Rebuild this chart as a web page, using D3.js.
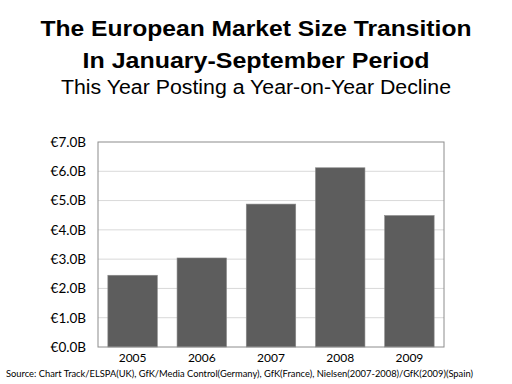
<!DOCTYPE html>
<html><head><meta charset="utf-8">
<script src="https://cdn.jsdelivr.net/npm/d3@7"></script>
<style>body{margin:0;background:#fff}svg{display:block}</style>
</head><body>
<script>
const years = ["2005","2006","2007","2008","2009"];
const values = [2.45, 3.04, 4.88, 6.12, 4.49];
const yTicks = [0,1,2,3,4,5,6,7];
const titleLines = ["The European Market Size Transition","In January-September Period"];
const subtitle = "This Year Posting a Year-on-Year Decline";
const source = "Source:  Chart Track/ELSPA(UK), GfK/Media Control(Germany), GfK(France), Nielsen(2007-2008)/GfK(2009)(Spain)";

const W=512,H=384;
const m={l:98,r:68,t:142,b:37};
const svg=d3.select("body").append("svg").attr("width",W).attr("height",H);
const x=d3.scaleBand().domain(years).range([m.l,W-m.r]).paddingInner(0.285).paddingOuter(0.1425);
const y=d3.scaleLinear().domain([0,7]).range([H-m.b,m.t]);

svg.append("text").attr("x",256).attr("y",36).attr("text-anchor","middle")
  .attr("font-family","Liberation Sans, Arial, sans-serif").attr("font-weight","bold").attr("font-size",21.5)
  .attr("textLength",431).attr("lengthAdjust","spacingAndGlyphs")
  .text(titleLines[0]);
svg.append("text").attr("x",256).attr("y",68).attr("text-anchor","middle")
  .attr("font-family","Liberation Sans, Arial, sans-serif").attr("font-weight","bold").attr("font-size",21.5)
  .attr("textLength",347).attr("lengthAdjust","spacingAndGlyphs")
  .text(titleLines[1]);
svg.append("text").attr("x",256).attr("y",94).attr("text-anchor","middle")
  .attr("font-family","Liberation Sans, Arial, sans-serif").attr("font-size",19.5)
  .attr("textLength",390).attr("lengthAdjust","spacingAndGlyphs")
  .text(subtitle);

// gridlines
svg.append("g").selectAll("line").data(yTicks.filter(d=>d>0&&d<7)).join("line")
  .attr("x1",m.l).attr("x2",W-m.r).attr("y1",d=>y(d)).attr("y2",d=>y(d))
  .attr("stroke","#d9d9d9").attr("stroke-width",1);

// bars
svg.append("g").selectAll("rect").data(values).join("rect")
  .attr("x",(d,i)=>x(years[i])).attr("width",x.bandwidth())
  .attr("y",d=>y(d)).attr("height",d=>y(0)-y(d))
  .attr("fill","#5d5d5d").attr("stroke","#8a8a8a").attr("stroke-width",0.6);

// frame
svg.append("rect").attr("x",m.l).attr("y",m.t).attr("width",W-m.r-m.l).attr("height",H-m.b-m.t)
  .attr("fill","none").attr("stroke","#8c8c8c").attr("stroke-width",1);

// y axis
const ya=svg.append("g").attr("transform",`translate(${m.l},0)`)
  .call(d3.axisLeft(y).tickValues(yTicks).tickSize(0).tickPadding(12).tickFormat(d=>"€"+d.toFixed(1)+"B"));
ya.select(".domain").remove();
ya.selectAll("text").attr("font-family","Lato, Open Sans, sans-serif").attr("font-size",13.5).attr("fill","#000");

// x axis
const xa=svg.append("g").attr("transform",`translate(0,${H-m.b})`)
  .call(d3.axisBottom(x).tickSize(0).tickPadding(6));
xa.select(".domain").remove();
xa.selectAll("text").attr("font-family","Lato, Open Sans, sans-serif").attr("font-size",12).attr("fill","#000");

svg.append("text").attr("x",6).attr("y",377).attr("font-family","Lato, Open Sans, sans-serif")
  .attr("font-size",8.8).attr("fill","#000")
  .attr("textLength",467).attr("lengthAdjust","spacingAndGlyphs").text(source);
</script>
</body></html>
